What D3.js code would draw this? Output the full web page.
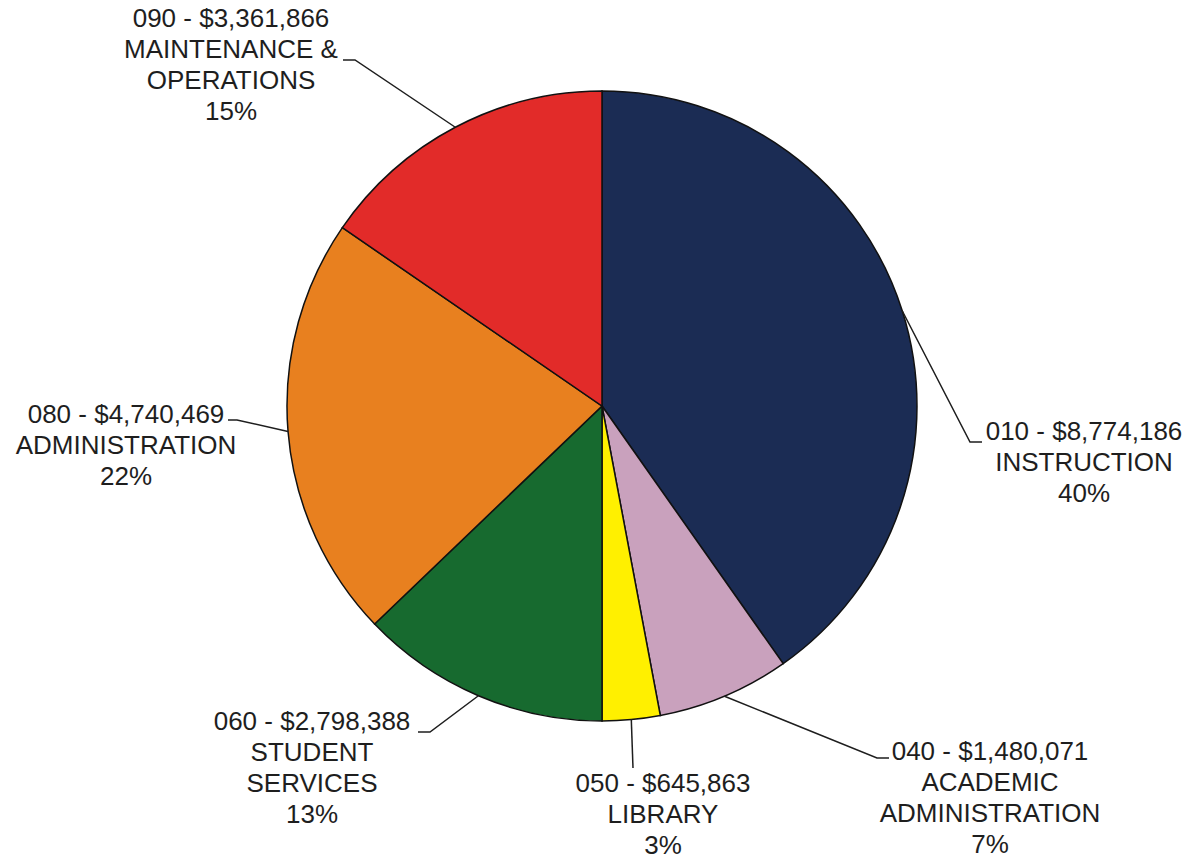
<!DOCTYPE html>
<head>
    <meta charset="utf-8">
    <title>Expenditures by Function</title>
    <style>
        body { margin: 0; background: #fff; }
        text {
            font-family: "Liberation Sans", Arial, sans-serif;
            font-size: 26px;
            fill: #1e1e1e;
        }
    </style>
    <script src="https://d3js.org/d3.v7.min.js"></script>
</head>
<body>
    <script>
        // data
        var codes = ["010", "040", "050", "060", "080", "090"];
        var names = [["INSTRUCTION"], ["ACADEMIC", "ADMINISTRATION"], ["LIBRARY"],
                     ["STUDENT", "SERVICES"], ["ADMINISTRATION"], ["MAINTENANCE &", "OPERATIONS"]];
        var amounts = [8774186, 1480071, 645863, 2798388, 4740469, 3361866];
        var colors = ["#1b2c54", "#c9a1bd", "#fff000", "#176a2f", "#e8801f", "#e22b29"];

        // label layout: text centre x, first baseline y, leader elbow, leader end
        var layout = {
            "010": { tx: 1084, ty: 440, elbow: [970, 442], end: [982, 442] },
            "040": { tx: 990, ty: 760, elbow: [877, 758], end: [889, 758] },
            "050": { tx: 663, ty: 792, elbow: [633, 768], end: [633, 768] },
            "060": { tx: 312, ty: 730, elbow: [430, 732], end: [418, 732] },
            "080": { tx: 126, ty: 423, elbow: [237, 420], end: [228, 420] },
            "090": { tx: 231, ty: 27, elbow: [355, 60], end: [343, 60], lineIdx: 1 }
        };

        var width = 1191, height = 859,
            cx = 602, cy = 406, radius = 315, lineH = 31;

        var data = codes.map(function (c, i) {
            return { code: c, names: names[i], amount: amounts[i], color: colors[i] };
        });
        var total = d3.sum(amounts);

        var svg = d3.select("body")
            .append("svg")
            .attr("width", width)
            .attr("height", height);

        var pie = d3.pie()
            .sort(null)
            .value(function (d) { return d.amount; });

        var arc = d3.arc()
            .innerRadius(0)
            .outerRadius(radius);

        var arcs = pie(data);

        var plot = svg.append("g")
            .attr("transform", "translate(" + cx + "," + cy + ")");

        plot.selectAll("path")
            .data(arcs)
            .enter()
            .append("path")
            .attr("d", arc)
            .attr("fill", function (d) { return d.data.color; })
            .attr("stroke", "#111")
            .attr("stroke-width", 1.5);

        // leader lines
        var fmt = d3.format(",");
        arcs.forEach(function (a) {
            var L = layout[a.data.code];
            var mid = (a.startAngle + a.endAngle) / 2;
            var px = cx + radius * Math.sin(mid),
                py = cy - radius * Math.cos(mid);
            svg.append("polyline")
                .attr("points", [[px, py], L.elbow, L.end].map(function (p) { return p.join(","); }).join(" "))
                .attr("fill", "none")
                .attr("stroke", "#1e1e1e")
                .attr("stroke-width", 1.5);

            var lines = ["" + a.data.code + " - $" + fmt(a.data.amount)]
                .concat(a.data.names)
                .concat([Math.round(a.data.amount / total * 100) + "%"]);

            var t = svg.append("text")
                .attr("text-anchor", "middle");
            lines.forEach(function (s, i) {
                t.append("tspan")
                    .attr("x", L.tx)
                    .attr("y", L.ty + i * lineH)
                    .text(s);
            });
        });
    </script>
</body>
